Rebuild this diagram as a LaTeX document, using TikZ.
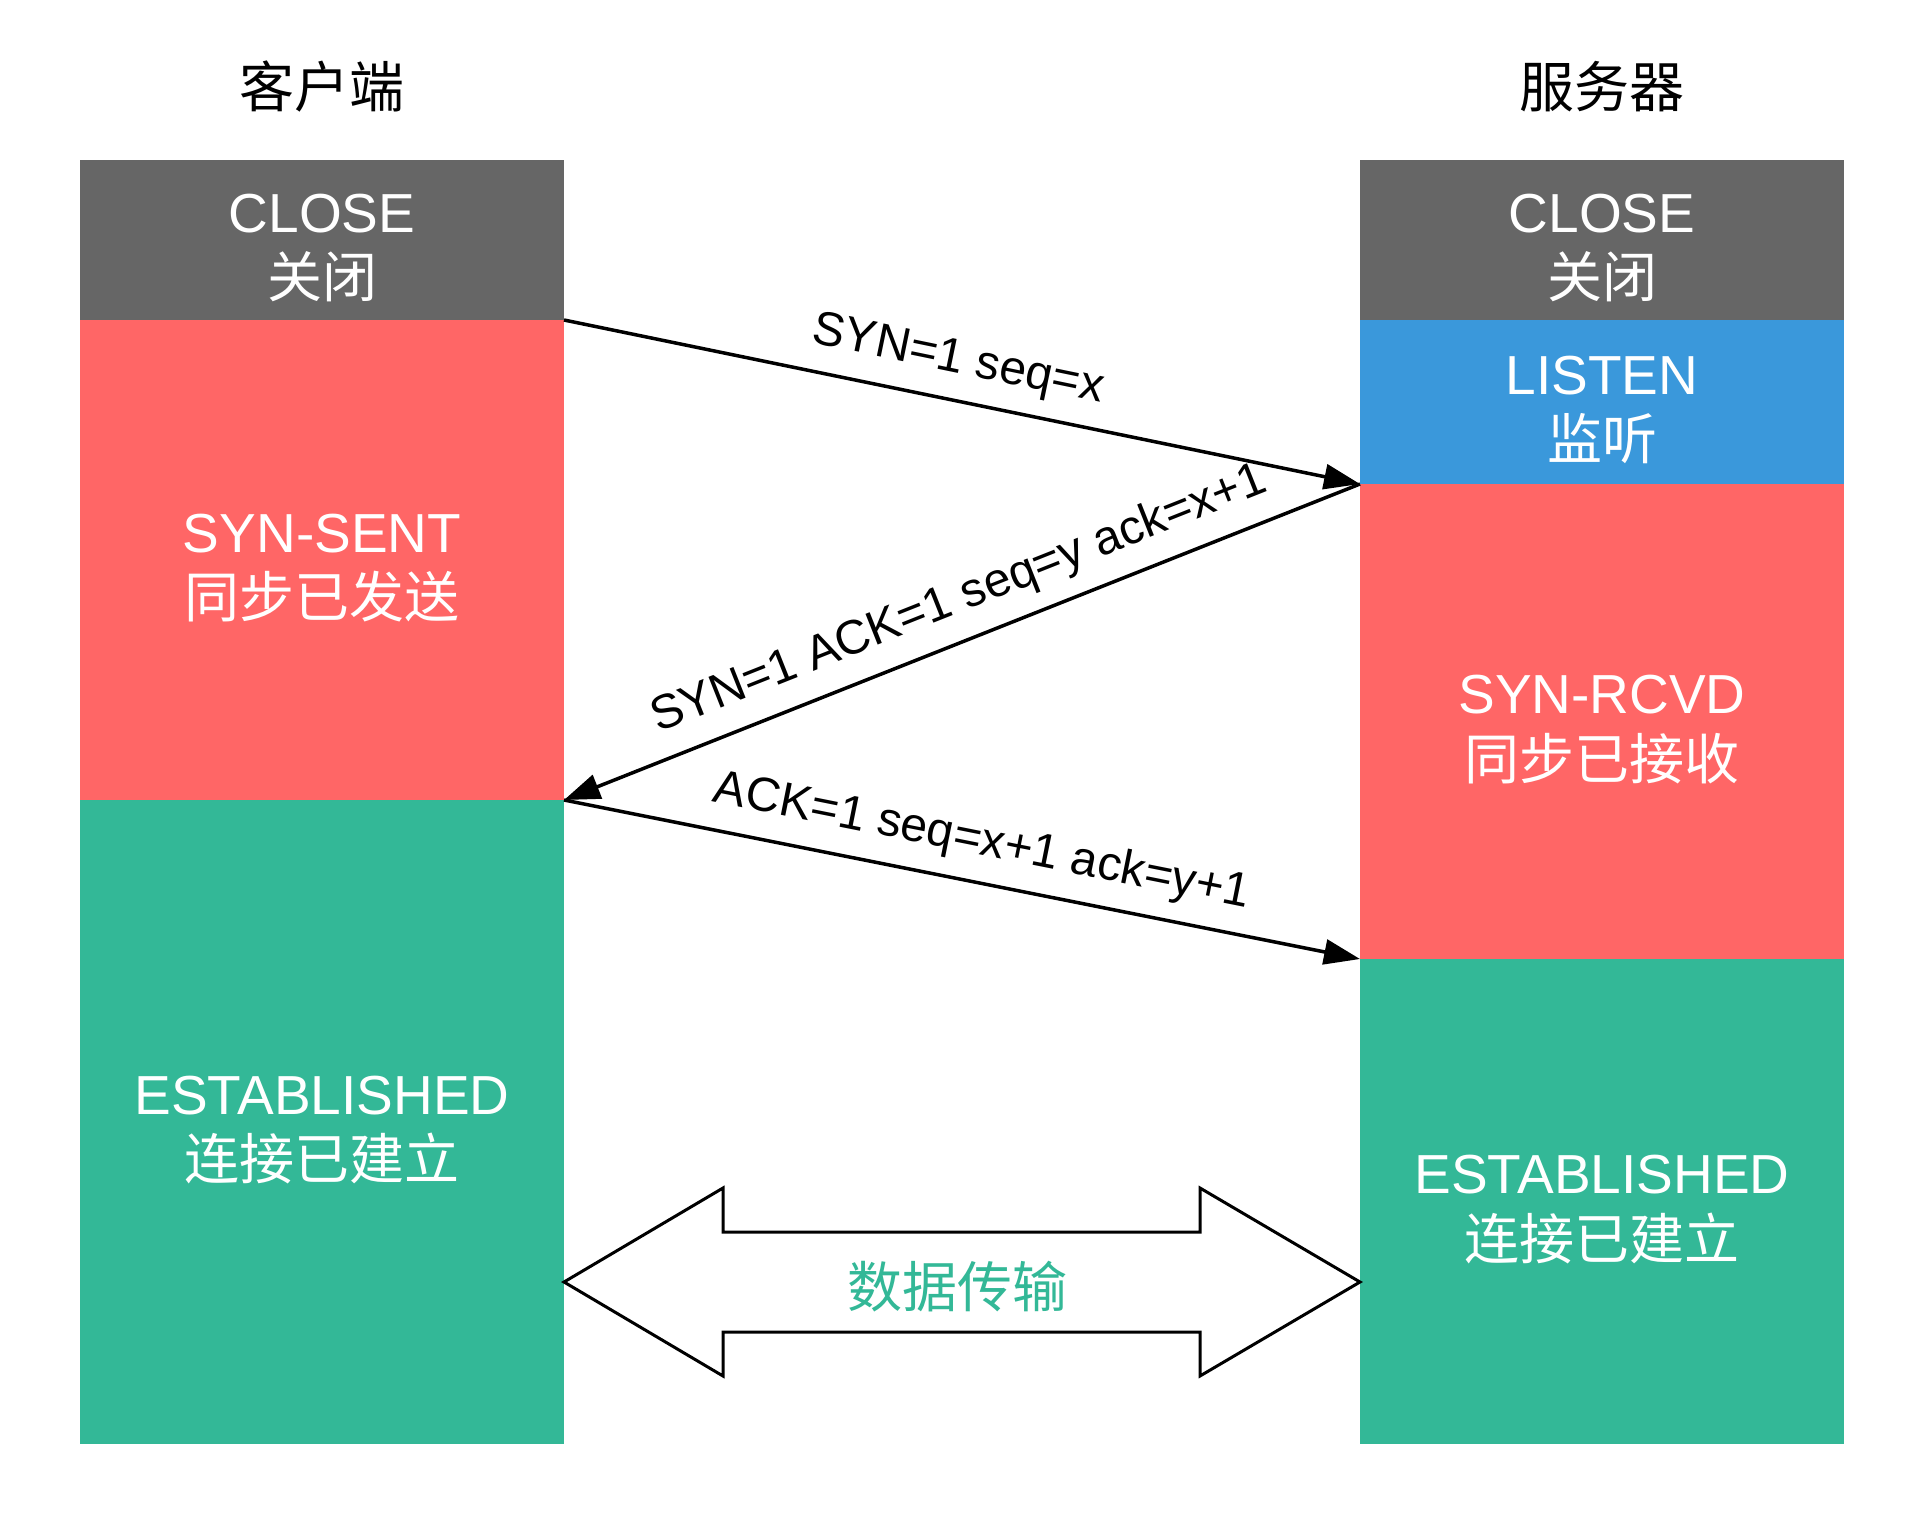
\documentclass[tikz,border=0pt]{standalone}
\usepackage{fontspec}
\setmainfont{Liberation Sans}
\newfontfamily\cjk{Noto Sans CJK SC}
\usetikzlibrary{arrows.meta}
\definecolor{cgray}{HTML}{666666}
\definecolor{cred}{HTML}{FF6666}
\definecolor{cblue}{HTML}{3A98DB}
\definecolor{cgreen}{HTML}{33B897}
\begin{document}
\begin{tikzpicture}[x=1pt,y=-1pt,
  statebox/.style={rectangle,inner sep=0pt,outer sep=0pt,draw=none,minimum width=484pt,anchor=north west},
  statetext/.style={text=white,align=center,font=\fontsize{55}{65.5}\selectfont,inner sep=0pt,yshift=-8pt},
  titletext/.style={font=\fontsize{55}{65.5}\selectfont\cjk,inner sep=0pt},
  msg/.style={line width=3.5pt,-{Triangle[length=36pt,width=25pt]}},
  msglabel/.style={font=\fontsize{48}{56}\selectfont,sloped,above=16pt,inner sep=0pt},
  dblarrow/.style={draw=black,fill=white,line width=3pt,line join=miter}]
\useasboundingbox (0,0) rectangle (1928,1528);
% titles
\node[titletext] (tclient) at (322,87) {客户端};
\node[titletext] (tserver) at (1602,87) {服务器};
% client column
\node[statebox,fill=cgray,minimum height=160pt] (cclose) at (80,160) {};
\node[statebox,fill=cred,minimum height=480pt] (csent) at (80,320) {};
\node[statebox,fill=cgreen,minimum height=644pt] (cest) at (80,800) {};
% server column
\node[statebox,fill=cgray,minimum height=160pt] (sclose) at (1360,160) {};
\node[statebox,fill=cblue,minimum height=164pt] (slisten) at (1360,320) {};
\node[statebox,fill=cred,minimum height=475pt] (srcvd) at (1360,484) {};
\node[statebox,fill=cgreen,minimum height=485pt] (sest) at (1360,959) {};
% state texts
\node[statetext] (tcclose) at (cclose.center) {CLOSE\\{\cjk 关闭}};
\node[statetext] (tcsent) at (csent.center) {SYN-SENT\\{\cjk 同步已发送}};
\node[statetext] (tcest) at (cest.center) {ESTABLISHED\\{\cjk 连接已建立}};
\node[statetext] (tsclose) at (sclose.center) {CLOSE\\{\cjk 关闭}};
\node[statetext] (tslisten) at (slisten.center) {LISTEN\\{\cjk 监听}};
\node[statetext] (tsrcvd) at (srcvd.center) {SYN-RCVD\\{\cjk 同步已接收}};
\node[statetext] (tsest) at (sest.center) {ESTABLISHED\\{\cjk 连接已建立}};
% handshake messages
\draw[msg] (cclose.south east) -- node[msglabel,pos=0.485] (l1) {SYN=1 seq=x} (slisten.south west);
\draw[msg] (slisten.south west) -- node[msglabel,pos=0.485] (l2) {SYN=1 ACK=1 seq=y ack=x+1} (csent.south east);
\draw[msg] (csent.south east) -- node[msglabel,pos=0.515] (l3) {ACK=1 seq=x+1 ack=y+1} (srcvd.south west);
% data transfer double arrow
\draw[dblarrow] (564,1282) -- (723,1188) -- (723,1232) -- (1200,1232) -- (1200,1188)
  -- (1360,1282) -- (1200,1376) -- (1200,1332) -- (723,1332) -- (723,1376) -- cycle;
\node[font=\fontsize{55}{65.5}\selectfont\cjk,text=cgreen,inner sep=0pt] (data) at (957,1287) {数据传输};
\end{tikzpicture}
\end{document}
